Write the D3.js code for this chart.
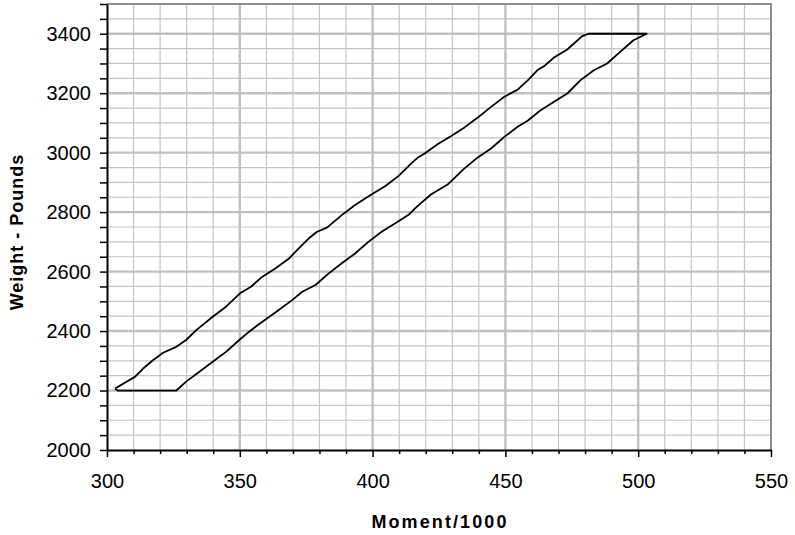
<!DOCTYPE html>
<html>
<head>
<meta charset="utf-8">
<script src="https://cdn.jsdelivr.net/npm/d3@7"></script>
<style>
  body { margin: 0; background: #fff; }
  text { font-family: "Liberation Sans", Arial, sans-serif; }
</style>
</head>
<body>
<div class="container"></div>
<script>
// forward (upper-left) edge of the envelope, bottom to top
let fwdMoment = [303.0, 310.5, 313.6, 317.3, 321.1, 326.1, 329.8, 333.6, 339.8, 344.8,
  350.4, 354.2, 358.5, 363.5, 368.5, 372.2, 376.0, 379.1, 382.8, 388.4,
  393.4, 399.1, 404.7, 409.7, 414.6, 417.1, 419.6, 424.6, 429.6, 434.6,
  439.6, 444.6, 449.6, 454.6, 458.6, 462.1, 464.6, 468.3, 473.3, 475.8,
  478.9, 481.4]
let fwdWeight = [2207, 2246, 2274, 2302, 2327, 2347, 2370, 2403, 2448, 2482,
  2529, 2549, 2583, 2611, 2644, 2678, 2712, 2734, 2748, 2790,
  2824, 2857, 2887, 2921, 2964, 2984, 2997, 3029, 3056, 3085,
  3118, 3154, 3188, 3212, 3245, 3278, 3291, 3320, 3347, 3367,
  3392, 3400]

// aft (lower-right) edge, top to bottom
let aftMoment = [503.2, 498.2, 493.2, 488.3, 483.3, 478.3, 473.3, 468.3, 463.3, 458.5,
  454.6, 449.6, 444.6, 439.6, 434.6, 428.4, 422.1, 417.1, 413.4, 408.4,
  403.4, 398.4, 393.4, 388.4, 383.5, 378.5, 373.5, 369.7, 363.5, 357.3,
  353.5, 349.8, 344.8, 339.8, 334.8, 329.8, 326.1, 304.0]
let aftWeight = [3400, 3378, 3339, 3300, 3277, 3244, 3199, 3171, 3143, 3108,
  3087, 3053, 3014, 2984, 2947, 2894, 2860, 2822, 2790, 2762,
  2734, 2700, 2661, 2628, 2594, 2555, 2532, 2504, 2463, 2424,
  2398, 2370, 2330, 2297, 2263, 2230, 2200, 2200]

let xTicks = [300, 350, 400, 450, 500, 550]
let yTicks = [2000, 2200, 2400, 2600, 2800, 3000, 3200, 3400]

let width = 795
let height = 535
let plot = { left: 107, right: 771, top: 4, bottom: 450 }

let x = d3.scaleLinear().domain([300, 550]).range([plot.left, plot.right])
let y = d3.scaleLinear().domain([2000, 3500]).range([plot.bottom, plot.top])

let svg = d3.select(".container")
  .append("svg")
  .attr("width", width)
  .attr("height", height)

// grid, minor first then major on top
let minorX = d3.range(300, 551, 10)
let minorY = d3.range(2000, 3501, 50)

svg.append("g").selectAll("line")
  .data(minorX.filter(d => d % 50 !== 0))
  .enter().append("line")
  .attr("x1", d => x(d)).attr("x2", d => x(d))
  .attr("y1", plot.top).attr("y2", plot.bottom)
  .attr("stroke", "#c4c4c4").attr("stroke-width", 1.2)

svg.append("g").selectAll("line")
  .data(minorY.filter(d => d % 200 !== 0))
  .enter().append("line")
  .attr("x1", plot.left).attr("x2", plot.right)
  .attr("y1", d => y(d)).attr("y2", d => y(d))
  .attr("stroke", "#c4c4c4").attr("stroke-width", 1.2)

svg.append("g").selectAll("line")
  .data(xTicks.slice(1, -1))
  .enter().append("line")
  .attr("x1", d => x(d)).attr("x2", d => x(d))
  .attr("y1", plot.top).attr("y2", plot.bottom)
  .attr("stroke", "#c0c0c0").attr("stroke-width", 2.4)

svg.append("g").selectAll("line")
  .data(yTicks.slice(1))
  .enter().append("line")
  .attr("x1", plot.left).attr("x2", plot.right)
  .attr("y1", d => y(d)).attr("y2", d => y(d))
  .attr("stroke", "#c0c0c0").attr("stroke-width", 2.4)

// top and right frame
svg.append("path")
  .attr("d", `M${plot.left},${plot.top}H${plot.right}V${plot.bottom}`)
  .attr("fill", "none")
  .attr("stroke", "#8c8c8c")
  .attr("stroke-width", 2)

// envelope
let envelope = []
for (let i = 0; i < fwdMoment.length; i++) envelope.push([fwdMoment[i], fwdWeight[i]])
for (let i = 0; i < aftMoment.length; i++) envelope.push([aftMoment[i], aftWeight[i]])
envelope.push(envelope[0])

let line = d3.line()
  .x(d => x(d[0]))
  .y(d => y(d[1]))

svg.append("path")
  .datum(envelope)
  .attr("d", line)
  .attr("fill", "none")
  .attr("stroke", "#000")
  .attr("stroke-width", 1.8)
  .attr("stroke-linejoin", "round")

// axes
let xAxis = d3.axisBottom(x)
  .tickValues(minorX)
  .tickSize(4)
  .tickFormat(d => xTicks.includes(d) ? d : "")
  .tickSizeOuter(0)

let gx = svg.append("g")
  .attr("transform", `translate(0,${plot.bottom})`)
  .call(xAxis)
gx.select(".domain").attr("stroke", "#000").attr("stroke-width", 2)
gx.selectAll(".tick line")
  .attr("stroke", "#000")
  .attr("stroke-width", 1.5)
  .attr("y2", d => xTicks.includes(d) ? 7 : 4)
gx.selectAll(".tick text")
  .attr("y", 24)
  .attr("font-size", "20px")
  .attr("font-family", "Liberation Sans, Arial, sans-serif")
  .attr("fill", "#000")

let yAxis = d3.axisLeft(y)
  .tickValues(minorY)
  .tickSize(7)
  .tickFormat(d => yTicks.includes(d) ? d : "")
  .tickSizeOuter(0)

let gy = svg.append("g")
  .attr("transform", `translate(${plot.left},0)`)
  .call(yAxis)
gy.select(".domain").attr("stroke", "#000").attr("stroke-width", 2)
gy.selectAll(".tick line").attr("stroke", "#000").attr("stroke-width", 1.5)
gy.selectAll(".tick text")
  .attr("x", -16)
  .attr("font-size", "20px")
  .attr("font-family", "Liberation Sans, Arial, sans-serif")
  .attr("fill", "#000")

// titles
svg.append("text")
  .attr("x", (plot.left + plot.right) / 2 + 1)
  .attr("y", 528)
  .attr("text-anchor", "middle")
  .attr("font-size", "18px")
  .attr("font-weight", "bold")
  .attr("letter-spacing", "2.1")
  .text("Moment/1000")

svg.append("text")
  .attr("transform", `translate(23,${(plot.top + plot.bottom) / 2 + 5}) rotate(-90)`)
  .attr("text-anchor", "middle")
  .attr("font-size", "18px")
  .attr("font-weight", "bold")
  .attr("letter-spacing", "1")
  .text("Weight - Pounds")
</script>
</body>
</html>
